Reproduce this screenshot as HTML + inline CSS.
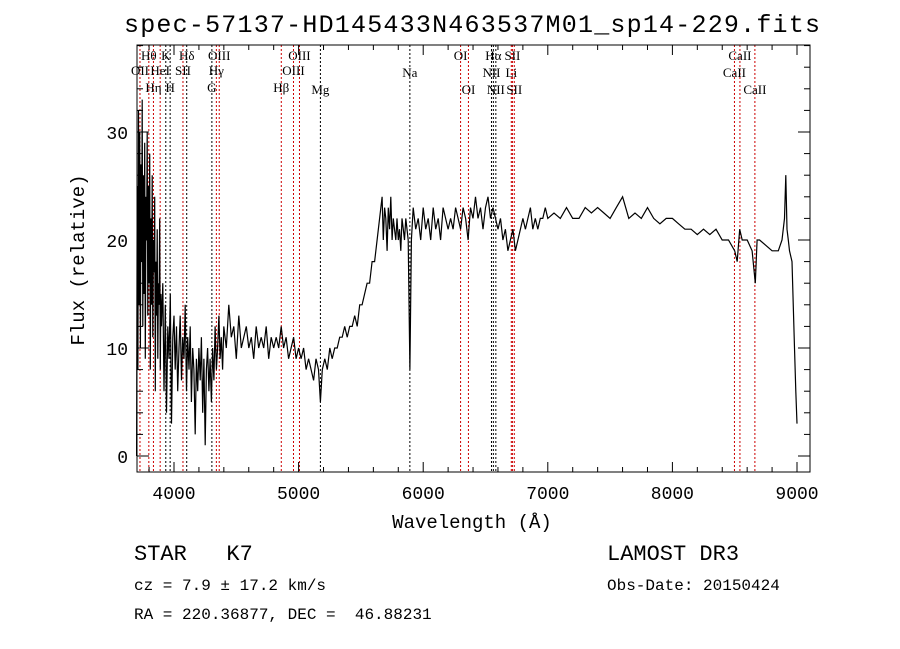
<!DOCTYPE html>
<html><head><meta charset="utf-8"><style>
body{margin:0;background:#fff;}
svg{display:block;font-family:"Liberation Serif",serif;}
.m{font-family:"Liberation Mono",monospace;white-space:pre;}
</style></head><body>
<svg id="chart" width="900" height="649" viewBox="0 0 900 649">
<rect width="900" height="649" fill="#fff"/>
<text class="m" x="472" y="32" font-size="25" text-anchor="middle" textLength="696">spec-57137-HD145433N463537M01_sp14-229.fits</text>
<g id="lines"></g>
<g id="plot"></g>
<g id="axes"></g>
<text class="m" x="472" y="528" font-size="19" text-anchor="middle">Wavelength (Å)</text>
<text class="m" transform="translate(84,260) rotate(-90)" font-size="19" text-anchor="middle">Flux (relative)</text>
<text class="m" x="134" y="560" font-size="22" xml:space="preserve">STAR   K7</text>
<text class="m" x="134" y="590" font-size="16">cz = 7.9 ± 17.2 km/s</text>
<text class="m" x="134" y="619" font-size="16" xml:space="preserve">RA = 220.36877, DEC =  46.88231</text>
<text class="m" x="607" y="560" font-size="22">LAMOST DR3</text>
<text class="m" x="607" y="590" font-size="16">Obs-Date: 20150424</text>
</svg>
<script>
function range(a,b,s){const r=[];for(let v=a;v<=b;v+=s)r.push(v);return r;}
const wl=[...range(3700,3895,5),...range(3900,4400,10),...range(4420,5160,20),5175,...range(5190,5670,20),...range(5680,5880,10),5893,5905,...range(5920,6980,20),...range(7000,8500,50),8520,8540,8560,8600,8640,8665,8680,8700,8750,8800,8850,8880,8900,8910,8920,8930,8940,8960,8980,8990,9000];
const flux=[
0,25,8,32,14,30,10,27,18,33, 12,26,15,29,9,24,20,30,13,25, 16,28,8,22,14,26,11,20,17,24, 6,18,13,21,9,16,14,22,8,15,
12,16,6,14,4,12,9,15,3,11, 13,8,12,6,10,13,7,11,9,14, 6,11,8,12,5,10,8,2,9,6, 10,7,11,4,9,1,8,10,6,9, 5,10,7,12,8,10,13,9,11,8, 12,
10,14,11,12,9,13,10,11,12,10, 11,9,12,10,11,10,12,9,11,10, 11,10,12,10,11,9,10,11,9,10, 9,10,8,9,8,7,9,8,
5,
8,9,8,10,9,10,10,11,11,12, 11,12,12,13,12,14,14,15,16,16, 18,18,20,22,24,
20,23,22,19,23,21,24,20,22,21, 20,22,20,21,19,22,21,20,22,21, 20,
8,20,
23,21,22,20,23,21,22,20,23,21, 22,20,23,22,21,22,21,23,22,21, 23,22,20,23,22,24,22,23,21,23, 24,22,23,22,21,22,20,21,19,20, 21,19,20,21,22,21,22,23,21,22, 21,22,22,23,
22,22.5,22,23,22,22,23,22.5,23,22.5, 22,23,24,22,22.5,22,23,22,21.5,22, 22,21.5,21,21,20.5,21,20.5,21,20,20, 19,
18,21,20,20,19,16,20,20,19.5,19,19,20,22,26,21,20,19,18,10,6,3];
const lineWl=[3727,3798,3835,3889,3934,3969,4072,4102,4304,4340,4363,4861,4959,5007,5175,5893,6300,6363,6548,6563,6583,6707,6716,6731,8498,8542,8662];
const lineRed=[1,1,1,1,0,0,1,0,0,1,1,1,1,1,0,0,1,1,0,0,0,1,1,1,1,1,1];
const xTicks=[4000,5000,6000,7000,8000,9000];
const yTicks=[0,10,20,30];
const labels=[["OII",3727,75],["Hθ",3798,60],["Hη",3835,92],["HeI",3889,75],["K",3934,60],["H",3969,92],["SII",4072,75],["Hδ",4102,60],["G",4304,92],["Hγ",4340,75],["OIII",4363,60],["Hβ",4861,92],["OIII",4959,75],["OIII",5007,60],["Mg",5175,94],["Na",5893,77],["OI",6300,60],["OI",6363,94],["NII",6548,77],["Hα",6563,60],["NII",6583,94],["Li",6707,77],["SII",6716,60],["SII",6731,94],["CaII",8498,77],["CaII",8542,60],["CaII",8662,94]];
const X0=137,X1=810,Y0=45,Y1=472;
const sx=w=>174+(w-4000)*0.1246;
const sy=v=>456-v*10.8;
const NS="http://www.w3.org/2000/svg";
function mk(t,a,p){const e=document.createElementNS(NS,t);for(const k in a)e.setAttribute(k,a[k]);p.appendChild(e);return e;}
const L=document.getElementById('lines');
lineWl.forEach((w,i)=>{
 const e=mk('line',{x1:sx(w),x2:sx(w),y1:Y0,y2:Y1,stroke:lineRed[i]?'#c00':'#000','stroke-width':1,'stroke-dasharray':'2,2'},L);
 
 
});
labels.forEach(l=>{
 const t=mk('text',{x:sx(l[1]),y:l[2],'font-size':13,'text-anchor':'middle'},L);
 t.textContent=l[0];
 
 
});
const P=document.getElementById('plot');
const n=Math.min(wl.length,flux.length);
const pts=wl.slice(0,n).map((w,i)=>sx(w).toFixed(1)+','+sy(flux[i]).toFixed(1)).join(' ');
const pl=mk('polyline',{points:pts,fill:'none',stroke:'#000','stroke-width':1.2},P);


const A=document.getElementById('axes');
const fr=mk('rect',{x:X0,y:Y0,width:X1-X0,height:Y1-Y0,fill:'none',stroke:'#000','stroke-width':1},A);


for(let w=3800;w<=9100;w+=200){const x=sx(w);if(x<X0||x>X1)continue;const big=w%1000===0;const h=big?10:5;
 mk('line',{x1:x,x2:x,y1:Y1,y2:Y1-h,stroke:'#000'},A);mk('line',{x1:x,x2:x,y1:Y0,y2:Y0+h,stroke:'#000'},A);}
xTicks.forEach(w=>{const t=mk('text',{x:sx(w),y:499,'font-size':18,'text-anchor':'middle',class:'m'},A);t.textContent=w;
 });
for(let v=0;v<=38;v+=2){const y=sy(v);const big=v%10===0;const h=big?12:6;
 mk('line',{x1:X0,x2:X0+h,y1:y,y2:y,stroke:'#000'},A);mk('line',{x1:X1,x2:X1-h,y1:y,y2:y,stroke:'#000'},A);}
yTicks.forEach(v=>{const t=mk('text',{x:128,y:sy(v)+7,'font-size':18,'text-anchor':'end',class:'m'},A);t.textContent=v;
 });
</script>
</body></html>
